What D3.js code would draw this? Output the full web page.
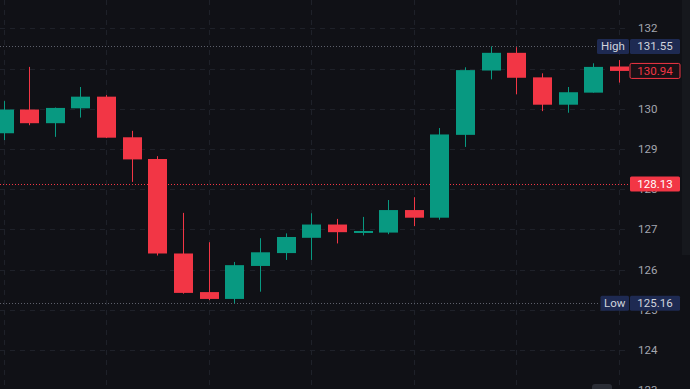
<!DOCTYPE html>
<html>
<head>
<meta charset="utf-8">
<script src="https://cdn.jsdelivr.net/npm/d3@7"></script>
<style>
  html, body { margin: 0; padding: 0; background: #101116; }
  svg { display: block; font-family: Roboto, "Noto Sans", sans-serif; }
</style>
</head>
<body>
<div id="chart"></div>
<script>
// OHLC values, one entry per candle (left to right)
const opens  = [129.39, 129.98, 129.64, 130.01, 130.30, 129.29, 128.75, 126.40, 125.44, 125.27, 126.09, 126.41, 126.79,
                127.12, 126.92, 126.92, 127.48, 127.29, 129.35, 130.95, 131.39, 130.78, 130.10, 130.40, 131.05];
const highs  = [130.19, 131.04, 130.03, 130.54, 130.34, 129.45, 128.82, 127.41, 126.68, 126.19, 126.78, 126.90, 127.40,
                127.26, 127.31, 127.73, 127.80, 129.52, 131.03, 131.55, 131.53, 130.88, 130.54, 131.13, 131.21];
const lows   = [129.22, 129.59, 129.30, 129.78, 129.27, 128.18, 126.35, 125.40, 125.24, 125.16, 125.45, 126.24, 126.24,
                126.65, 126.85, 126.88, 127.08, 127.24, 129.05, 130.73, 130.36, 129.94, 129.90, 130.40, 130.65];
const closes = [129.98, 129.64, 130.02, 130.30, 129.28, 128.74, 126.40, 125.42, 125.27, 126.11, 126.43, 126.81, 127.12,
                126.93, 126.96, 127.48, 127.29, 129.36, 130.96, 131.39, 130.77, 130.10, 130.41, 131.04, 130.94];

const yTicks = [123, 124, 125, 126, 127, 128, 129, 130, 131, 132];
const highValue = 131.55, lowValue = 125.16, refValue = 128.13, lastValue = 130.94;

const width = 690, height = 389;
const UP = "#089981", DOWN = "#f23645";

const svg = d3.select("#chart").append("svg")
    .attr("width", width)
    .attr("height", height);

svg.append("rect").attr("width", width).attr("height", height).attr("fill", "#101116");

// scales
const x = d3.scaleLinear().domain([0, opens.length - 1]).range([3.5, 619]);
const y = d3.scaleLinear().domain([124, 132]).range([350, 28.3]);
const bodyW = 19;
const plotRight = 630;

// grid
const grid = svg.append("g").attr("stroke", "#1e2129").attr("stroke-dasharray", "5,5");
grid.selectAll(".hg").data(yTicks).enter().append("line")
    .attr("x1", 0).attr("x2", plotRight)
    .attr("y1", d => Math.round(y(d)) + 0.5).attr("y2", d => Math.round(y(d)) + 0.5);
grid.selectAll(".vg").data(d3.range(0, opens.length, 4)).enter().append("line")
    .attr("y1", 0).attr("y2", height)
    .attr("x1", d => Math.round(x(d)) + 0.5).attr("x2", d => Math.round(x(d)) + 0.5);

// scrollbar strip on the right edge
svg.append("rect").attr("x", 682).attr("y", 0).attr("width", 8).attr("height", 255).attr("fill", "#16181d");

// high / low / reference lines
const hline = (v, color, x2) => svg.append("line")
    .attr("x1", 0).attr("x2", x2)
    .attr("y1", Math.round(y(v)) + 0.5).attr("y2", Math.round(y(v)) + 0.5)
    .attr("stroke", color).attr("stroke-dasharray", "1,2");
hline(highValue, "#5d606b", 597);
hline(lowValue, "#5d606b", 600);
hline(refValue, DOWN, plotRight);

// candles
const data = opens.map((o, i) => ({ i, o, h: highs[i], l: lows[i], c: closes[i] }));
const candles = svg.append("g").selectAll("g").data(data).enter().append("g")
    .attr("fill", d => d.c >= d.o ? UP : DOWN)
    .attr("stroke", d => d.c >= d.o ? UP : DOWN);

candles.append("line")
    .attr("x1", d => Math.round(x(d.i)) + 0.5).attr("x2", d => Math.round(x(d.i)) + 0.5)
    .attr("y1", d => y(d.h)).attr("y2", d => y(d.l))
    .attr("stroke-width", 1);

candles.append("rect")
    .attr("x", d => Math.round(x(d.i)) - bodyW / 2 + 0.5)
    .attr("width", bodyW)
    .attr("y", d => y(Math.max(d.o, d.c)))
    .attr("height", d => Math.max(2, Math.abs(y(d.o) - y(d.c))))
    .attr("stroke", "none");

// axis tick labels
svg.append("g").selectAll("text").data(yTicks).enter().append("text")
    .attr("x", 638).attr("y", d => y(d) + 4)
    .attr("fill", "#a3a6af").attr("font-size", 11.5)
    .text(d => d);

// price labels
const label = (v, text, opts) => {
  const yc = y(v);
  const g = svg.append("g");
  g.append("rect").attr("x", 630).attr("y", yc - 7.5).attr("width", 50).attr("height", 15)
    .attr("rx", 1.5).attr("fill", opts.fill).attr("stroke", opts.stroke || "none");
  g.append("text").attr("x", 655).attr("y", yc + 4).attr("text-anchor", "middle")
    .attr("fill", opts.color).attr("font-size", 11.5).text(text);
  if (opts.tag) {
    g.append("rect").attr("x", opts.tagX).attr("y", yc - 7.5).attr("width", 629 - opts.tagX).attr("height", 15)
      .attr("rx", 1.5).attr("fill", opts.fill);
    g.append("text").attr("x", (opts.tagX + 629) / 2).attr("y", yc + 4).attr("text-anchor", "middle")
      .attr("fill", opts.color).attr("font-size", 11.5).text(opts.tag);
  }
};
label(highValue, highValue.toFixed(2), { fill: "#1e2a52", color: "#d1d4dc", tag: "High", tagX: 597 });
label(lowValue, lowValue.toFixed(2), { fill: "#1e2a52", color: "#d1d4dc", tag: "Low", tagX: 600.5 });
label(refValue, refValue.toFixed(2), { fill: DOWN, color: "#ffffff" });
label(lastValue, lastValue.toFixed(2), { fill: "#1a1116", stroke: DOWN, color: DOWN });

// little button at the bottom
svg.append("rect").attr("x", 592).attr("y", 384).attr("width", 20).attr("height", 12)
  .attr("rx", 3).attr("fill", "#2a2d35");
</script>
</body>
</html>
